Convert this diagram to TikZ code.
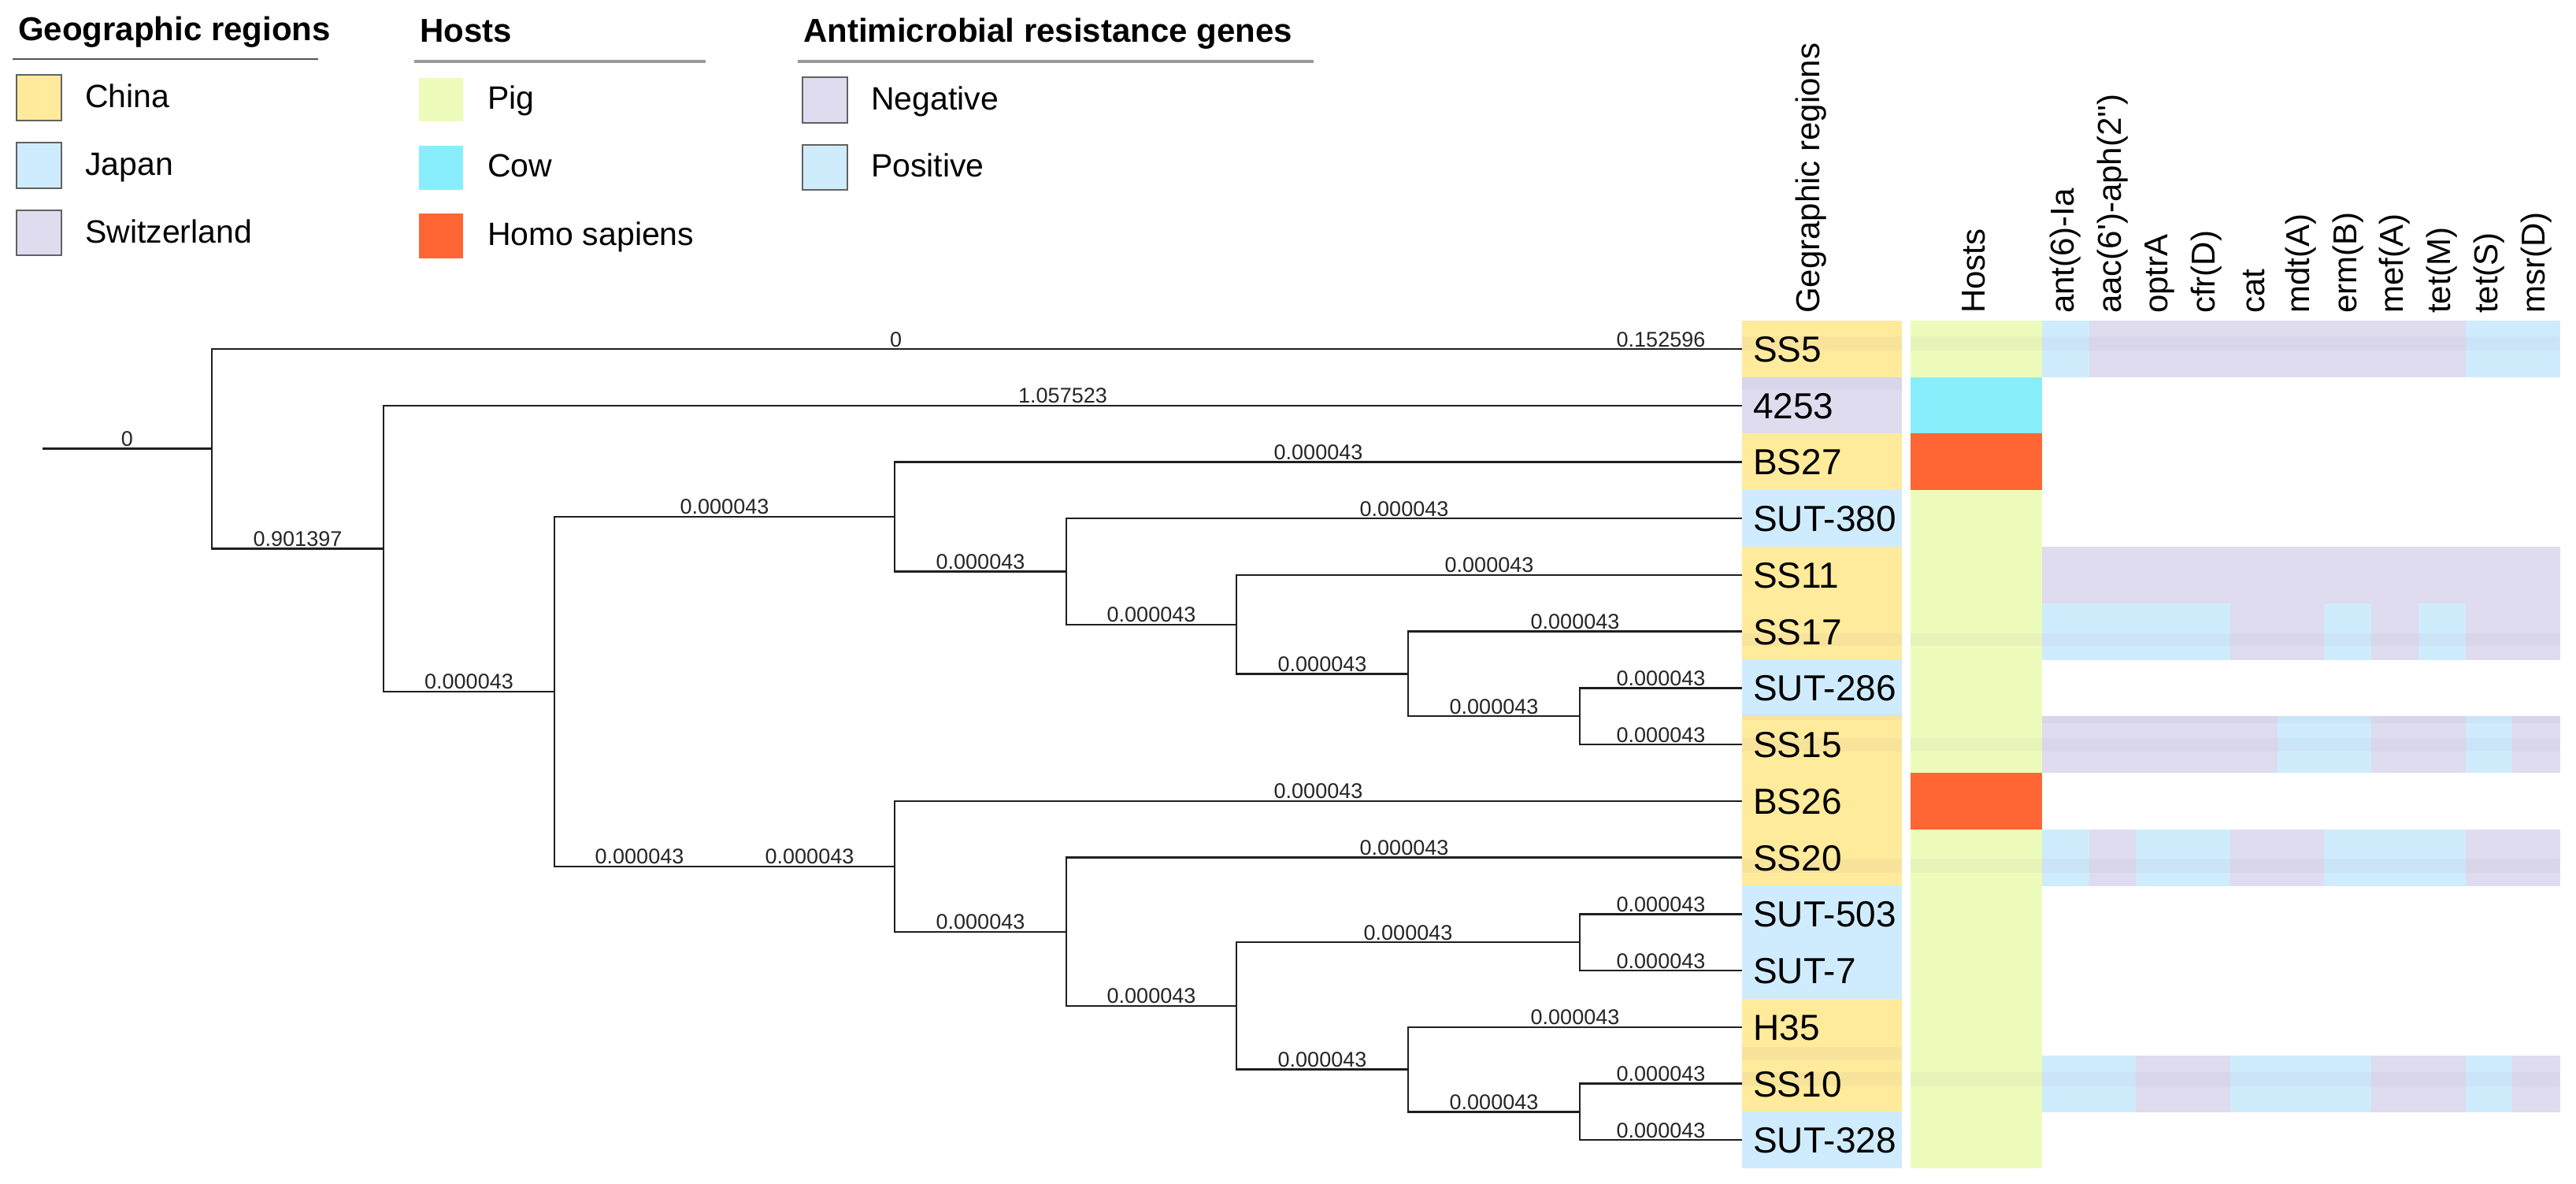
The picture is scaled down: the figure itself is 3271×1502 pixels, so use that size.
\documentclass[tikz,border=0pt]{standalone}
\usepackage{fontspec}
\setmainfont{Liberation Sans}
\usetikzlibrary{calc}
\definecolor{china}{RGB}{255,235,155}
\definecolor{japan}{RGB}{207,236,254}
\definecolor{swiss}{RGB}{222,220,238}
\definecolor{pig}{RGB}{237,252,186}
\definecolor{cow}{RGB}{136,238,252}
\definecolor{homo}{RGB}{255,102,51}
\definecolor{amrN}{RGB}{222,220,238}
\definecolor{amrP}{RGB}{207,236,252}
\definecolor{bandtint}{RGB}{150,110,170}
\newcommand\amrrow[2]{%
  \foreach \v [count=\k] in {#2} {%
    \pgfmathsetmacro\xa{2593+59.73*(\k-1)}%
    \pgfmathsetmacro\ya{407+71.73*(#1-1)}%
    \fill[amr\v] (\xa,\ya) rectangle ++(60.2,72.2);
  }}
\newcommand\blab[4]{\node[blabel] (#1) at (#2,#3-3) {#4};}
\begin{document}
\begin{tikzpicture}[x=1pt,y=-1pt,
  branch/.style={draw=black!88,line width=2.4pt},
  blabel/.style={anchor=base,inner sep=0pt,text=black!85,font=\fontsize{27}{30}\selectfont},
  leaf/.style={anchor=west,inner xsep=14pt,inner ysep=0pt,text height=33pt,text depth=0pt,font=\fontsize{46}{50}\selectfont},
  legtitle/.style={anchor=base west,inner sep=0pt,font=\bfseries\fontsize{42}{46}\selectfont},
  legtext/.style={anchor=base west,inner sep=0pt,font=\fontsize{41}{45}\selectfont},
  head/.style={rotate=90,anchor=west,inner sep=0pt,font=\fontsize{42}{46}\selectfont},
  legbox/.style={draw=black!62,line width=1.8pt},
  band/.style={fill=bandtint,opacity=0.06}]
\useasboundingbox (0,0) rectangle (3271,1502);
\fill[white] (0,0) rectangle (3271,1502);

% ---------- legend ----------
\node[legtitle] (tgeo) at (23,51) {Geographic regions};
\draw[black!67,line width=2pt] (16,75) -- (404,75);
\draw[legbox,fill=china] (21,95) rectangle (78,153);
\draw[legbox,fill=japan] (21,181) rectangle (78,239);
\draw[legbox,fill=swiss] (21,267) rectangle (78,324);
\node[legtext] (lchina) at (108,136) {China};
\node[legtext] (ljapan) at (108,222) {Japan};
\node[legtext] (lswiss) at (108,308) {Switzerland};

\node[legtitle] (thost) at (533,53) {Hosts};
\draw[black!40,line width=3.5pt] (526,78) -- (896,78);
\fill[pig] (532,99) rectangle (588,154);
\fill[cow] (532,185) rectangle (588,241);
\fill[homo] (532,271) rectangle (588,328);
\node[legtext] (lpig) at (619,138) {Pig};
\node[legtext] (lcow) at (619,224) {Cow};
\node[legtext] (lhomo) at (619,311) {Homo sapiens};

\node[legtitle] (tamr) at (1020,53) {Antimicrobial resistance genes};
\draw[black!40,line width=3.5pt] (1013,78) -- (1668,78);
\draw[legbox,fill=amrN] (1019,98) rectangle (1076,156);
\draw[legbox,fill=amrP] (1019,184) rectangle (1076,241);
\node[legtext] (lneg) at (1106,139) {Negative};
\node[legtext] (lpos) at (1106,224) {Positive};

% ---------- headers ----------
\node[head] (hgeo) at (2300,398) {Gegraphic regions};
\node[head] (hhost) at (2506,398) {Hosts};
\foreach \g [count=\k] in {ant(6)-Ia,aac(6\textquotesingle)-aph(2\textquotesingle\textquotesingle),optrA,cfr(D),cat,mdt(A),erm(B),mef(A),tet(M),tet(S),msr(D)}{
  \node[head] (hg\k) at ({2593+59.73*(\k-0.5)},398) {\g};
}

% ---------- table ----------
\foreach \i/\nm/\g/\h in {1/SS5/china/pig,2/4253/swiss/cow,3/BS27/china/homo,4/SUT-380/japan/pig,
  5/SS11/china/pig,6/SS17/china/pig,7/SUT-286/japan/pig,8/SS15/china/pig,9/BS26/china/homo,
  10/SS20/china/pig,11/SUT-503/japan/pig,12/SUT-7/japan/pig,13/H35/china/pig,14/SS10/china/pig,15/SUT-328/japan/pig}{
  \pgfmathsetmacro\yt{407+71.73*(\i-1)}
  \fill[\g] (2212,\yt) rectangle (2415,\yt+72.2);
  \fill[\h] (2426,\yt) rectangle (2593,\yt+72.2);
}
\amrrow{1}{P,N,N,N,N,N,N,N,N,P,P}
\amrrow{5}{N,N,N,N,N,N,N,N,N,N,N}
\amrrow{6}{P,P,P,P,N,N,P,N,P,N,N}
\amrrow{8}{N,N,N,N,N,P,P,N,N,P,N}
\amrrow{10}{P,N,P,P,N,N,P,P,P,N,N}
\amrrow{14}{P,P,N,N,P,P,P,N,N,P,N}

% faint stripes of the heat map
\foreach \ya/\yb in {427/445,804/820,937/954,1090/1108,1361/1379}{
  \fill[band] (2212,\ya) rectangle (2415,\yb);
  \fill[band] (2426,\ya) rectangle (2593,\yb);
  \fill[band] (2593,\ya) rectangle (3250,\yb);
}
\foreach \ya/\yb in {479/495,906/914,1329/1346}{
  \fill[band] (2212,\ya) rectangle (2415,\yb);
}
\fill[band] (2593,909) rectangle (3250,918);

\foreach \i/\nm in {1/SS5,2/4253,3/BS27,4/SUT-380,5/SS11,6/SS17,7/SUT-286,8/SS15,9/BS26,
  10/SS20,11/SUT-503,12/SUT-7,13/H35,14/SS10,15/SUT-328}{
  \node[leaf] (leaf\i) at (2212,{443+71.73*(\i-1)}) {\nm};
}

% ---------- tree ----------
\coordinate (R) at (54,569.65);
\coordinate (A) at (269,569.65);
\coordinate (B) at (487,696.3);
\coordinate (C) at (704,877.9);
\coordinate (D) at (1136,655.97);
\coordinate (E) at (1354,725.45);
\coordinate (F) at (1570,792.7);
\coordinate (G) at (1788,855.5);
\coordinate (H) at (2006,909.25);
\coordinate (Ip) at (920,1099.8);
\coordinate (I) at (1136,1099.8);
\coordinate (J) at (1354,1182.7);
\coordinate (K) at (1570,1276.9);
\coordinate (L) at (2006,1196.15);
\coordinate (M) at (1788,1357.6);
\coordinate (N) at (2006,1411.35);

\draw[branch] (R) -- (A);
\draw[branch] (A) |- (leaf1.west);
\draw[branch] (A) |- (B);
\draw[branch] (B) |- (leaf2.west);
\draw[branch] (B) |- (C);
\draw[branch] (C) |- (D);
\draw[branch] (C) |- (Ip) -- (I);
\draw[branch] (D) |- (leaf3.west);
\draw[branch] (D) |- (E);
\draw[branch] (E) |- (leaf4.west);
\draw[branch] (E) |- (F);
\draw[branch] (F) |- (leaf5.west);
\draw[branch] (F) |- (G);
\draw[branch] (G) |- (leaf6.west);
\draw[branch] (G) |- (H);
\draw[branch] (H) |- (leaf7.west);
\draw[branch] (H) |- (leaf8.west);
\draw[branch] (I) |- (leaf9.west);
\draw[branch] (I) |- (J);
\draw[branch] (J) |- (leaf10.west);
\draw[branch] (J) |- (K);
\draw[branch] (K) |- (L);
\draw[branch] (K) |- (M);
\draw[branch] (L) |- (leaf11.west);
\draw[branch] (L) |- (leaf12.west);
\draw[branch] (M) |- (leaf13.west);
\draw[branch] (M) |- (N);
\draw[branch] (N) |- (leaf14.west);
\draw[branch] (N) |- (leaf15.west);

% ---------- branch labels ----------
\blab{b1}{161.5}{569.65}{0}
\blab{b2}{1137.5}{443}{0}
\blab{b3}{2109}{443}{0.152596}
\blab{b4}{378}{696.3}{0.901397}
\blab{b5}{1349.5}{514.7}{1.057523}
\blab{b6}{595.5}{877.9}{0.000043}
\blab{b7}{920}{655.97}{0.000043}
\blab{b8}{1674}{586.5}{0.000043}
\blab{b9}{1245}{725.45}{0.000043}
\blab{b10}{1783}{658.2}{0.000043}
\blab{b11}{1462}{792.7}{0.000043}
\blab{b12}{1891}{729.9}{0.000043}
\blab{b13}{1679}{855.5}{0.000043}
\blab{b14}{2000}{801.7}{0.000043}
\blab{b15}{1897}{909.25}{0.000043}
\blab{b16}{2109}{873.4}{0.000043}
\blab{b17}{2109}{945.1}{0.000043}
\blab{b18}{812}{1099.8}{0.000043}
\blab{b19}{1028}{1099.8}{0.000043}
\blab{b20}{1674}{1016.8}{0.000043}
\blab{b21}{1245}{1182.7}{0.000043}
\blab{b22}{1783}{1088.6}{0.000043}
\blab{b23}{1462}{1276.9}{0.000043}
\blab{b24}{1788}{1196.15}{0.000043}
\blab{b25}{2109}{1160.3}{0.000043}
\blab{b26}{2109}{1232.0}{0.000043}
\blab{b27}{1679}{1357.6}{0.000043}
\blab{b28}{2000}{1303.8}{0.000043}
\blab{b29}{1897}{1411.35}{0.000043}
\blab{b30}{2109}{1375.5}{0.000043}
\blab{b31}{2109}{1447.2}{0.000043}
\end{tikzpicture}
\end{document}
